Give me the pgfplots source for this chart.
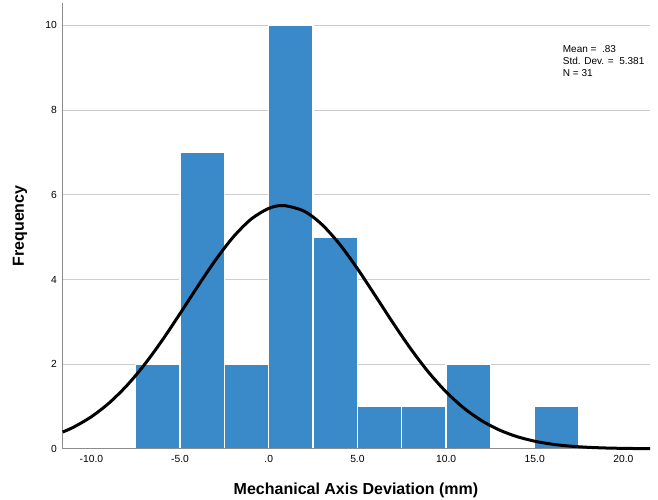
\documentclass[border=0pt]{standalone}
\usepackage{pgfplots}
\pgfplotsset{compat=1.18}
\usepackage{fontspec}
\setmainfont{Liberation Sans}
\definecolor{barBlue}{RGB}{58,138,201}
\definecolor{axGray}{RGB}{140,140,140}
\definecolor{gridGray}{RGB}{205,205,205}

\begin{document}
\begin{tikzpicture}
\path[use as bounding box] (-62.7pt,-50.2pt) rectangle (595.3pt,448.8pt);
\begin{axis}[
  scale only axis,
  width=587.3pt, height=445.8pt,
  at={(0,0)}, anchor=south west,
  axis x line=bottom, axis y line=left,
  axis line style={-, draw=axGray, line width=0.9pt},
  xmin=-11.62, xmax=21.5,
  ymin=0, ymax=10.53,
  enlargelimits=false,
  clip=false,
  xtick={-10,-5,0,5,10,15,20},
  xticklabels={-10.0,-5.0,.0,5.0,10.0,15.0,20.0},
  ytick={0,2,4,6,8,10},
  major tick length=0pt,
  /pgf/number format/assume math mode=true,
  tick label style={font=\fontsize{10.3}{12}\selectfont, text=black},
  xticklabel style={anchor=center, yshift=-10.4pt},
  yticklabel style={anchor=east, inner sep=0pt, xshift=-5.7pt},
  ymajorgrids=true,
  grid style={line width=0.8pt, draw=gridGray},
]
%% histogram bins of width 2.5
\addplot[ybar interval, fill=barBlue, draw=white, line width=1.4pt]
  coordinates {(-7.5,2) (-5,7) (-2.5,2) (0,10) (2.5,5) (5,1) (7.5,1) (10,2) (12.5,2)};
\addplot[ybar interval, fill=barBlue, draw=white, line width=1.4pt]
  coordinates {(15,1) (17.5,1)};
\draw[axGray, line width=0.9pt] (axis cs:-11.62,0) -- (axis cs:21.5,0);
%% normal curve, mean .83, sd 5.381, N 31
\addplot[smooth, black, line width=3pt]
  coordinates {
    (-11.62,0.3962) (-11,0.5125) (-10,0.7583) (-9,1.0831) (-8,1.4949) (-7,1.9932)
    (-6,2.5676) (-5,3.1951) (-4,3.8406) (-3,4.4601) (-2,5.0037) (-1,5.4230)
    (0,5.6779) (0.83,5.7458) (2,5.6116) (3,5.2971) (4,4.8305) (5,4.2554)
    (6,3.6217) (7,2.9777) (8,2.3649) (9,1.8145) (10,1.3450) (11,0.9631)
    (12,0.6663) (13,0.4452) (14,0.2875) (15,0.1793) (16,0.1080) (17,0.0629)
    (18,0.0354) (19,0.0192) (20,0.0101) (21,0.0051) (21.5,0.0036)
  };
\end{axis}
\node[font=\fontsize{16}{19}\selectfont\bfseries] at (293.3pt,-41.2pt)
  {Mechanical Axis Deviation (mm)};
\node[font=\fontsize{16}{19}\selectfont\bfseries, rotate=90] at (-42.7pt,222.9pt)
  {Frequency};
\node[anchor=north west, align=left, inner sep=0pt, font=\fontsize{10}{12}\selectfont]
  at (500pt,403.8pt) {Mean = \ .83\\Std. Dev. = \ 5.381\\N = 31};
\end{tikzpicture}
\end{document}
